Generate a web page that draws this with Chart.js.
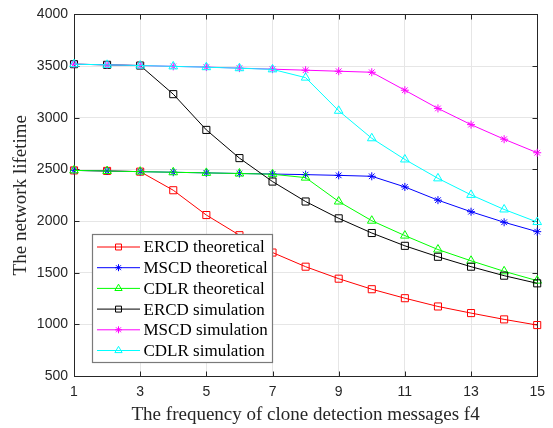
<!DOCTYPE html>
<html>
<head>
<meta charset="utf-8">
<script src="https://cdn.jsdelivr.net/npm/chart.js@4.4.1/dist/chart.umd.min.js"></script>
<style>
  body { margin: 0; background: #fff; }
  canvas { display: block; }
</style>
</head>
<body>
<canvas id="chart-lifetime" width="553" height="428"></canvas>
<script>
// ── Data ────────────────────────────────────────────────────

const F4 = [1, 2, 3, 4, 5, 6, 7, 8, 9, 10, 11, 12, 13, 14, 15];

const ERCD_THEO = [2490, 2485, 2478, 2298, 2058, 1863, 1695, 1558, 1442, 1340, 1253, 1173, 1109, 1048, 993];
const MSCD_THEO = [2490, 2484, 2478, 2472, 2466, 2460, 2455, 2449, 2442, 2433, 2330, 2202, 2090, 1988, 1897];
const CDLR_THEO = [2490, 2484, 2478, 2472, 2466, 2460, 2453, 2420, 2189, 2003, 1859, 1724, 1615, 1513, 1423];
const ERCD_SIM  = [3518, 3512, 3505, 3228, 2882, 2609, 2382, 2189, 2026, 1884, 1760, 1654, 1558, 1471, 1397];
const MSCD_SIM  = [3518, 3512, 3505, 3497, 3490, 3480, 3470, 3460, 3450, 3440, 3266, 3090, 2933, 2792, 2661];
const CDLR_SIM  = [3518, 3512, 3505, 3497, 3489, 3479, 3468, 3388, 3067, 2801, 2596, 2413, 2253, 2112, 1990];

const X_TICKS = [1, 3, 5, 7, 9, 11, 13, 15];
const Y_TICKS = [500, 1000, 1500, 2000, 2500, 3000, 3500, 4000];

// ── Helpers ────────────────────────────────────────────────

const SERIF = "'Liberation Serif', 'Times New Roman', serif";
const SANS  = "'Liberation Sans', Arial, sans-serif";

function series(label, values, color, style) {
  return {
    label,
    data: values.map((v, i) => ({ x: F4[i], y: v })),
    borderColor: color,
    backgroundColor: 'rgba(0,0,0,0)',
    borderWidth: 1,
    pointStyle: style,
    pointRadius: style === 'star' ? 4 : 5,
    pointBorderWidth: 1,
    pointBorderColor: color,
    pointBackgroundColor: 'rgba(0,0,0,0)',
    tension: 0,
    clip: false,
  };
}

// box + inward ticks, MATLAB style
const framePlugin = {
  id: 'frame',
  beforeDatasetsDraw(chart) {
    const { ctx, chartArea: a, scales: { x, y } } = chart;
    const L = Math.round(a.left) + 0.5, R = Math.round(a.right) + 0.5;
    const T = Math.round(a.top) + 0.5, B = Math.round(a.bottom) + 0.5;
    ctx.save();
    ctx.strokeStyle = '#262626';
    ctx.lineWidth = 1;
    ctx.strokeRect(L, T, R - L, B - T);
    ctx.beginPath();
    X_TICKS.forEach(v => {
      const px = Math.round(x.getPixelForValue(v)) + 0.5;
      ctx.moveTo(px, B); ctx.lineTo(px, B - 5);
      ctx.moveTo(px, T); ctx.lineTo(px, T + 5);
    });
    Y_TICKS.forEach(v => {
      const py = Math.round(y.getPixelForValue(v)) + 0.5;
      ctx.moveTo(L, py); ctx.lineTo(L + 5, py);
      ctx.moveTo(R, py); ctx.lineTo(R - 5, py);
    });
    ctx.stroke();
    ctx.restore();
  },
};

// legend box in the lower left of the axes
const boxLegendPlugin = {
  id: 'boxLegend',
  afterDatasetsDraw(chart) {
    const { ctx } = chart;
    const left = 92.5, top = 234.5, w = 180, h = 128, row = 20.7;
    ctx.save();
    ctx.fillStyle = '#fff';
    ctx.fillRect(left, top, w, h);
    ctx.strokeStyle = '#7a7a7a';
    ctx.lineWidth = 1.2;
    ctx.strokeRect(left, top, w, h);
    chart.data.datasets.forEach((ds, i) => {
      const cy = top + 12.5 + i * row;
      ctx.strokeStyle = ds.borderColor;
      ctx.fillStyle = 'rgba(0,0,0,0)';
      ctx.lineWidth = 1;
      ctx.beginPath();
      ctx.moveTo(97, cy);
      ctx.lineTo(140, cy);
      ctx.stroke();
      Chart.helpers.drawPoint(ctx, {
        pointStyle: ds.pointStyle,
        radius: ds.pointStyle === 'star' ? 3.5 : 4.2,
        borderWidth: 1,
        rotation: 0,
      }, 118.5, cy);
      ctx.fillStyle = '#000';
      ctx.font = `17px ${SERIF}`;
      ctx.textBaseline = 'middle';
      ctx.textAlign = 'left';
      ctx.fillText(ds.label, 143.5, cy + 1);
    });
    ctx.restore();
  },
};

// ── Chart ──────────────────────────────────────────────────

const datasets = [
  series('ERCD theoretical', ERCD_THEO, '#ff0000', 'rect'),
  series('MSCD theoretical', MSCD_THEO, '#0000ff', 'star'),
  series('CDLR theoretical', CDLR_THEO, '#00ff00', 'triangle'),
  series('ERCD simulation',  ERCD_SIM,  '#000000', 'rect'),
  series('MSCD simulation',  MSCD_SIM,  '#ff00ff', 'star'),
  series('CDLR simulation',  CDLR_SIM,  '#00ffff', 'triangle'),
];
// later series on top, as in the figure
datasets.forEach((ds, i) => { ds.order = datasets.length - i; });

new Chart(document.getElementById('chart-lifetime').getContext('2d'), {
  type: 'line',
  data: { datasets },
  options: {
    responsive: false,
    animation: false,
    layout: { padding: { top: 12, right: 15, left: 0, bottom: 0 } },
    plugins: {
      legend: { display: false },
      tooltip: { enabled: false },
    },
    scales: {
      x: {
        type: 'linear',
        min: 1,
        max: 15,
        afterBuildTicks: s => { s.ticks = X_TICKS.map(v => ({ value: v })); },
        afterFit: s => { s.height = 52; },
        grid: { color: '#e6e6e6', drawTicks: false },
        border: { display: false },
        ticks: {
          color: '#262626',
          padding: 8,
          maxRotation: 0,
          font: { family: SANS, size: 14 },
          callback: v => String(v),
        },
        title: {
          display: true,
          text: 'The frequency of clone detection messages f4',
          color: '#262626',
          font: { family: SERIF, size: 19 },
          padding: { top: 0, bottom: 2 },
        },
      },
      y: {
        min: 500,
        max: 4000,
        afterBuildTicks: s => { s.ticks = Y_TICKS.map(v => ({ value: v })); },
        afterFit: s => { s.width = 74; },
        grid: { color: '#e6e6e6', drawTicks: false },
        border: { display: false },
        ticks: {
          color: '#262626',
          padding: 6,
          font: { family: SANS, size: 14 },
          callback: v => String(v),
        },
        title: {
          display: true,
          text: 'The network lifetime',
          color: '#262626',
          font: { family: SERIF, size: 19 },
          padding: { top: 10, bottom: 0 },
        },
      },
    },
  },
  plugins: [framePlugin, boxLegendPlugin],
});
</script>
</body>
</html>
